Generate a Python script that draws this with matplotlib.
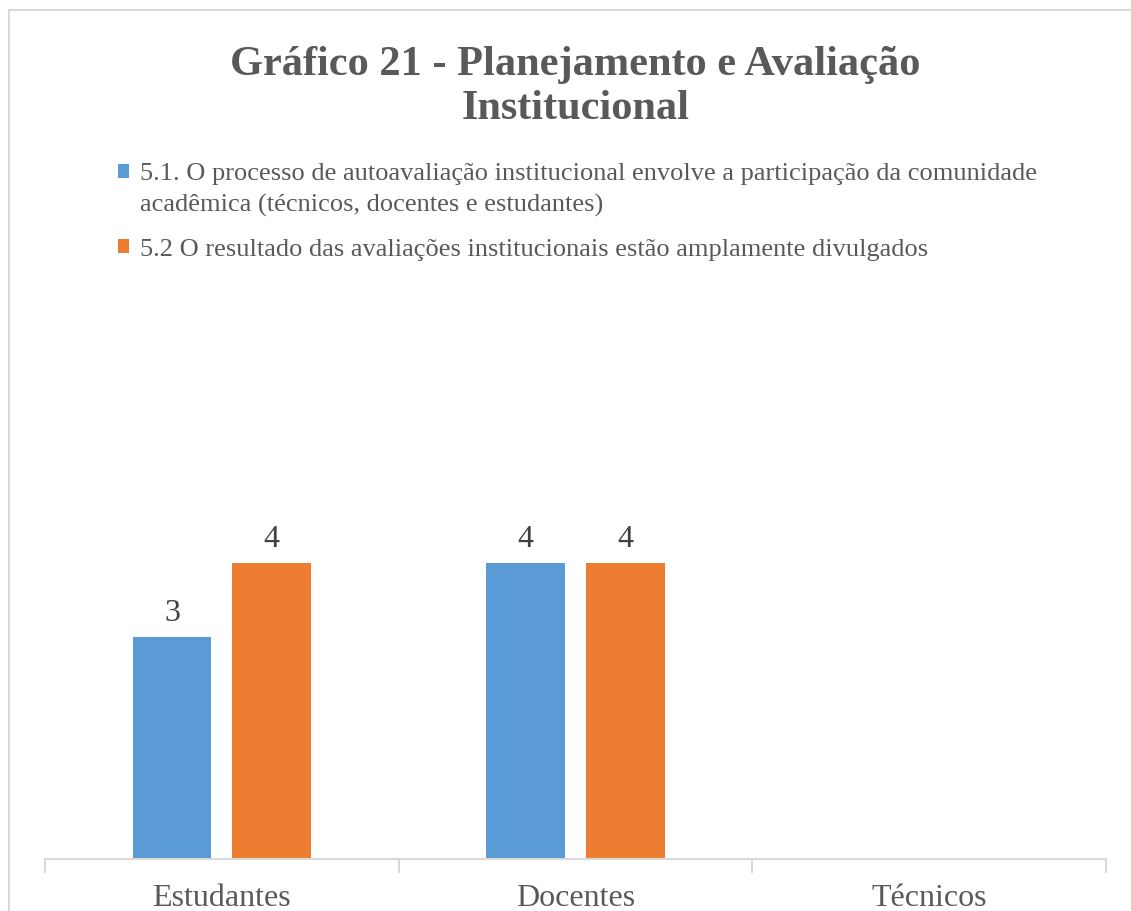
import matplotlib
matplotlib.use("Agg")
import matplotlib.pyplot as plt
from matplotlib.patches import Rectangle
import numpy as np

categories = ["Estudantes", "Docentes", "Técnicos"]
series_names = [
    "5.1. O processo de autoavaliação institucional envolve a participação da comunidade\nacadêmica (técnicos, docentes e estudantes)",
    "5.2 O resultado das avaliações institucionais estão amplamente divulgados",
]
series_51 = [3, 4, np.nan]
series_52 = [4, 4, np.nan]
colors = ["#5b9bd5", "#ed7d31"]
title = "Gráfico 21 - Planejamento e Avaliação\nInstitucional"

plt.rcParams['font.family'] = ['Liberation Serif', 'DejaVu Serif']
W, H = 1131, 912
fig = plt.figure(figsize=(W/100, H/100), dpi=100)
ax = fig.add_axes([45/W, 1-860/H, (1106-45)/W, (860-290)/H])

x = np.arange(len(categories))
bw = 0.223
off = 0.141
for i, (vals, c) in enumerate(zip([series_51, series_52], colors)):
    pos = x + (-off if i == 0 else off)
    bars = ax.bar(pos, vals, width=bw, color=c, label=series_names[i], zorder=2)
    for b, v in zip(bars, vals):
        if not np.isnan(v):
            ax.annotate(f"{v:g}", (b.get_x()+b.get_width()/2, v), xytext=(0, 7),
                        textcoords="offset points", ha="center", va="bottom",
                        fontsize=23, color="#404040")

ax.set_xlim(-0.5, 2.5)
ax.set_ylim(0, 7.7)
ax.set_yticks([])
for s in ["top", "right", "left"]:
    ax.spines[s].set_visible(False)
ax.spines["bottom"].set_color("#d9d9d9")
ax.spines["bottom"].set_linewidth(1.5)
ax.set_xticks(x)
ax.set_xticklabels(categories, fontsize=23, color="#595959")
ax.tick_params(axis="x", which="major", length=0, pad=17.5)
ax.set_xticks([-0.5, 0.5, 1.5, 2.5], minor=True)
ax.tick_params(axis="x", which="minor", length=10, width=1.5, color="#d9d9d9")

fig.text(0.509, 1-87/H, title, ha="center", va="center", fontsize=30.5,
         fontweight="bold", color="#595959", linespacing=1.22)

leg = fig.legend(loc="upper left", bbox_to_anchor=(107/W, 1-152/H), frameon=False,
                 fontsize=19, handlelength=0.45, handleheight=0.45, handletextpad=0.4,
                 labelspacing=0.83, labelcolor="#595959", borderaxespad=0)
for t in leg.get_texts():
    t.set_linespacing(1.55)
# align first handle with first line of its wrapped label
p0 = leg.get_patches()[0]
p0.set_y(p0.get_y() + 12.5)

fig.add_artist(Rectangle((9/W, -0.1), 1.2, (H-11)/H + 0.1, transform=fig.transFigure,
                         fill=False, edgecolor="#d9d9d9", lw=1.5))

fig.savefig("out.png", dpi=100)
